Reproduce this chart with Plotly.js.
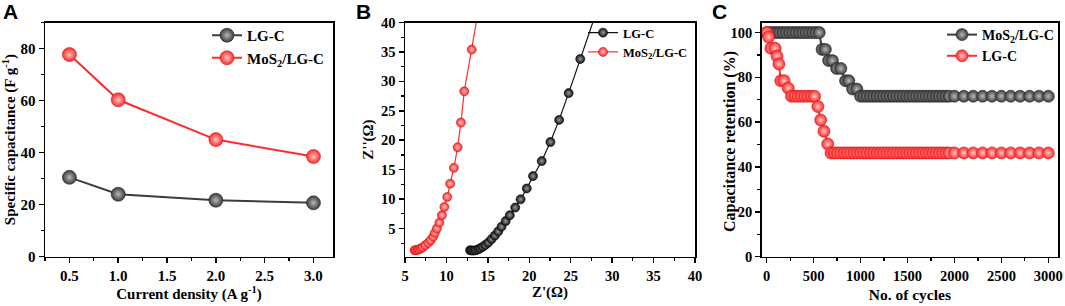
<!DOCTYPE html>
<html><head><meta charset="utf-8">
<script src="https://cdn.plot.ly/plotly-3.0.1.min.js"></script>
<style>html,body{margin:0;padding:0;background:#fff}#chart{width:1065px;height:306px}</style>
</head><body><div id="chart"></div>
<script>
// ---------- Panel A : specific capacitance vs current density ----------
const currentDensity = [0.5, 1.0, 2.0, 3.0];
const capLGC = [30.5, 24.0, 21.7, 20.7];
const capMoS2LGC = [77.7, 60.3, 45.0, 38.5];

// ---------- Panel B : Nyquist plot ----------
const zReLGC = [12.85, 13.05, 13.3, 13.55, 13.85, 14.1, 14.4, 14.7, 15.05, 15.45, 15.85, 16.25, 16.65, 17.15, 17.65, 18.3, 18.95, 19.7, 20.45, 21.5, 22.55, 23.6, 24.75, 26.15, 28.1];
const zImLGC = [1.3, 1.25, 1.25, 1.3, 1.45, 1.65, 1.9, 2.2, 2.6, 3.2, 3.8, 4.5, 5.3, 6.25, 7.25, 8.55, 9.95, 11.8, 13.9, 16.45, 19.7, 23.45, 28.0, 33.8, 41.8];
const zReMoS2LGC = [6.15, 6.3, 6.5, 6.7, 6.9, 7.15, 7.45, 7.8, 8.1, 8.4, 8.6, 8.85, 9.15, 9.45, 9.75, 10.1, 10.45, 10.9, 11.35, 11.75, 12.15, 13.05, 13.95];
const zImMoS2LGC = [1.3, 1.3, 1.35, 1.45, 1.6, 1.8, 2.15, 2.55, 3.0, 3.6, 4.25, 5.0, 6.0, 7.25, 8.65, 10.35, 12.6, 15.3, 18.8, 23.0, 28.3, 35.4, 42.8];

// ---------- Panel C : cycling stability ----------
const cyclesMoS2LGC = [0,35,70,105,140,175,210,245,280,315,350,385,420,455,490,525,560,
  590,625,660,700,745,790,840,875,915,960,
  1000,1035,1070,1105,1140,1175,1210,1245,1280,1315,1350,1385,1420,1455,1490,1525,1560,1595,1630,1665,1700,1735,1770,1805,1840,1875,1910,1945,
  2000,2100,2200,2300,2400,2500,2600,2700,2800,2900,3000];
const retentionMoS2LGC = [100,100,100,100,100,100,100,100,100,100,100,100,100,100,100,100,100,
  92.5,92.5,87.5,87.5,84,84,78.5,78.5,74.8,74.8,
  71.6,71.6,71.6,71.6,71.6,71.6,71.6,71.6,71.6,71.6,
  71.6,71.6,71.6,71.6,71.6,71.6,71.6,71.6,71.6,71.6,
  71.6,71.6,71.6,71.6,71.6,71.6,71.6,71.6,71.6,71.6,
  71.6,71.6,71.6,71.6,71.6,71.6,71.6,71.6,71.6];
const cyclesLGC = [0,20,45,90,110,130,150,185,230,265,
  300,335,370,405,440,475,510,
  545,575,610,650,685,
  720,755,790,825,860,895,930,965,1000,1035,1070,1105,1140,1175,1210,1245,1280,1315,1350,1385,1420,1455,1490,1525,1560,1595,1630,1665,1700,1735,1770,1805,1840,1875,1910,1945,
  2000,2100,2200,2300,2400,2500,2600,2700,2800,2900,3000];
const retentionLGC = [100,98,93,93,89.5,86,78.5,78.5,75.2,71.6,
  71.6,71.6,71.6,71.6,71.6,71.6,71.6,
  67,61,56,50.3,46.3,
  46.3,46.3,46.3,46.3,46.3,46.3,46.3,46.3,46.3,46.3,
  46.3,46.3,46.3,46.3,46.3,46.3,46.3,46.3,46.3,46.3,
  46.3,46.3,46.3,46.3,46.3,46.3,46.3,46.3,46.3,46.3,
  46.3,46.3,46.3,46.3,46.3,46.3,46.3,46.3,46.3,46.3,
  46.3,46.3,46.3,46.3,46.3,46.3,46.3];

const nameLGC = 'LG-C';
const nameMoS2LGC = 'MoS<sub>2</sub>/LG-C';
const panelLabels = ['A', 'B', 'C'];
const titlesX = ['Current density (A g<sup>-1</sup>)', "Z'(Ω)", 'No. of cycles'];
const titlesY = ['Specific capacitance (F g<sup>-1</sup>)', "Z''(Ω)", 'Capacitance retention (%)'];

// ---------- styling ----------
const W = 1065, H = 306;
const fx = p => p / W;
const fy = p => 1 - p / H;
const SERIF = '"Liberation Serif", "Times New Roman", serif';
const GREY = '#3c3c3c', RED = '#ff2b2b', BLACK = '#111111';

function sphere(color, center, size, edge) {
  return {symbol: 'circle', size: size, color: color,
    gradient: {type: 'radial', color: center},
    line: {color: edge, width: 0.6}};
}

const traces = [
  {x: currentDensity, y: capLGC, name: nameLGC, type: 'scatter', mode: 'lines+markers',
   xaxis: 'x', yaxis: 'y', legend: 'legend',
   line: {color: GREY, width: 2}, marker: sphere(GREY, '#b8b8b8', 14, '#222')},
  {x: currentDensity, y: capMoS2LGC, name: nameMoS2LGC, type: 'scatter', mode: 'lines+markers',
   xaxis: 'x', yaxis: 'y', legend: 'legend',
   line: {color: RED, width: 2}, marker: sphere(RED, '#ffc4c4', 14, '#d81010')},
  {x: zReLGC, y: zImLGC, name: nameLGC, type: 'scatter', mode: 'lines+markers',
   xaxis: 'x2', yaxis: 'y2', legend: 'legend2', cliponaxis: true,
   line: {color: BLACK, width: 1.2}, marker: sphere(BLACK, '#9a9a9a', 9, '#000')},
  {x: zReMoS2LGC, y: zImMoS2LGC, name: nameMoS2LGC, type: 'scatter', mode: 'lines+markers',
   xaxis: 'x2', yaxis: 'y2', legend: 'legend2', cliponaxis: true,
   line: {color: RED, width: 1.2}, marker: sphere(RED, '#ffc4c4', 9, '#d81010')},
  {x: cyclesMoS2LGC, y: retentionMoS2LGC, name: nameMoS2LGC, type: 'scatter', mode: 'lines+markers',
   xaxis: 'x3', yaxis: 'y3', legend: 'legend3', cliponaxis: false,
   line: {color: GREY, width: 2}, marker: sphere(GREY, '#b8b8b8', 12, '#222')},
  {x: cyclesLGC, y: retentionLGC, name: nameLGC, type: 'scatter', mode: 'lines+markers',
   xaxis: 'x3', yaxis: 'y3', legend: 'legend3', cliponaxis: false,
   line: {color: RED, width: 2}, marker: sphere(RED, '#ffc4c4', 12, '#d81010')}
];

function axis(extra, minorDtick, tickSize, title, titleSize, standoff) {
  const ax = Object.assign({
    showline: true, linecolor: '#000', linewidth: 1.5, mirror: true,
    ticks: 'outside', ticklen: 5, tickwidth: 1.5, tickcolor: '#000',
    showgrid: false, zeroline: false, fixedrange: true, automargin: false,
    tickfont: {family: SERIF, size: tickSize, color: '#000', weight: 700},
    minor: {ticks: 'outside', ticklen: 3, tickwidth: 1.2, tickcolor: '#000', dtick: minorDtick, showgrid: false}
  }, extra);
  if (title) ax.title = {text: title, standoff: standoff, font: {family: SERIF, size: titleSize, color: '#000', weight: 700}};
  return ax;
}
const yTop = fy(22.5), yBot = fy(256.7);

function legendAt(px, py, size) {
  return {x: fx(px), y: fy(py), xanchor: 'left', yanchor: 'top', bgcolor: 'rgba(0,0,0,0)',
    borderwidth: 0, font: {family: SERIF, size: size, color: '#000', weight: 700}};
}

const annotations = [];
const letterPos = [[10, 12], [363, 12], [719, 12]];
panelLabels.forEach((t, i) => annotations.push({text: t, xref: 'paper', yref: 'paper',
  x: fx(letterPos[i][0]), y: fy(letterPos[i][1]), xanchor: 'center', yanchor: 'middle', showarrow: false,
  font: {family: '"Liberation Sans", Arial, sans-serif', size: 21, color: '#000', weight: 700}}));
// panel C y title sits closer to its tick labels than an axis title standoff allows
annotations.push({text: titlesY[2], xref: 'paper', yref: 'paper', textangle: -90,
  x: fx(730), y: fy(142), xanchor: 'center', yanchor: 'middle', showarrow: false,
  font: {family: SERIF, size: 16, color: '#000', weight: 700}});

const layout = {
  width: W, height: H, margin: {l: 0, r: 0, t: 0, b: 0},
  paper_bgcolor: '#fff', plot_bgcolor: '#fff', showlegend: true,
  xaxis: axis({domain: [fx(45), fx(333)], range: [0.25, 3.2], tick0: 0.5, dtick: 0.5, tickformat: '.1f', anchor: 'y'}, 0.25, 15, titlesX[0], 15, 5),
  yaxis: axis({domain: [yBot, yTop], range: [0, 90], tick0: 0, dtick: 20, anchor: 'x'}, 10, 15, titlesY[0], 15, 1),
  xaxis2: axis({domain: [fx(405), fx(695)], range: [5, 40], tick0: 0, dtick: 5, anchor: 'y2'}, 2.5, 14.5, titlesX[1], 15, 2),
  yaxis2: axis({domain: [yBot, yTop], range: [0.2, 40], tick0: 0, dtick: 5, anchor: 'x2'}, 2.5, 14.5, titlesY[1], 15, 4),
  xaxis3: axis({domain: [fx(761.7), fx(1058)], range: [-53, 3103], tick0: 0, dtick: 500, tickformat: 'd', anchor: 'y3'}, 250, 14.5, titlesX[2], 15.5, 6),
  yaxis3: axis({domain: [yBot, yTop], range: [0, 104.5], tick0: 0, dtick: 20, anchor: 'x3'}, 10, 14.5, null),
  legend: legendAt(207, 19, 15),
  legend2: legendAt(583, 18, 12.5),
  legend3: legendAt(942, 19, 14),
  annotations: annotations
};

Plotly.newPlot('chart', traces, layout, {displayModeBar: false, staticPlot: true});
</script></body></html>
